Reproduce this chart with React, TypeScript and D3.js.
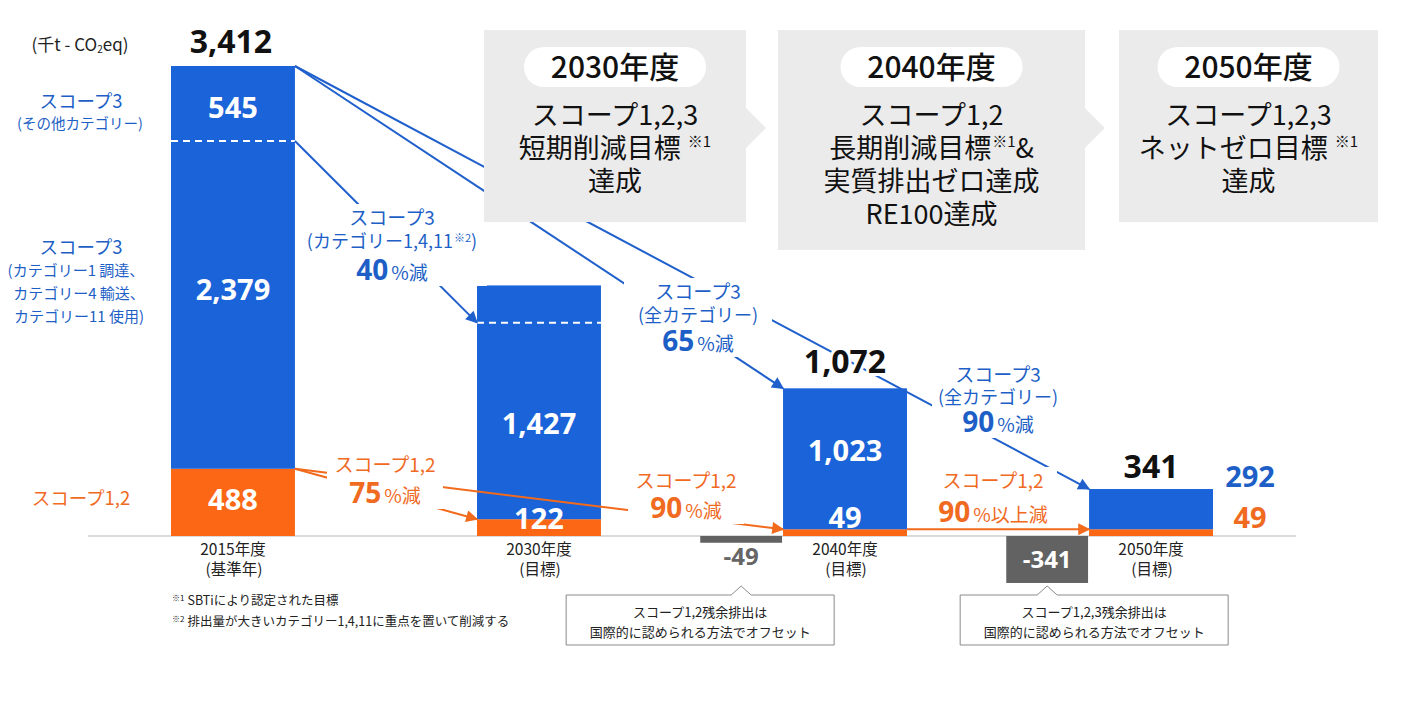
import React from 'react';
import * as d3 from 'd3';

// ---------- data ----------
const categories = ['2015年度', '2030年度', '2040年度', '2050年度'];
const categorySubs = ['(基準年)', '(目標)', '(目標)', '(目標)'];
const scope12 = [488, 122, 49, 49];
const scope3Main = [2379, 1427, 1023, 292];
const scope3Other = [545, 270, 0, 0];
const totals = [3412, 0, 1072, 341];
const offsets = [0, 0, -49, -341];
const yMax = 3412;

const unitLabel = ['(千t - CO', '2', 'eq)'];
const legendScope3Other = ['スコープ3', '(その他カテゴリー)'];
const legendScope3Main = ['スコープ3', '(カテゴリー1  調達、', 'カテゴリー4  輸送、', 'カテゴリー11  使用)'];
const legendScope12 = 'スコープ1,2';

const milestoneYears = ['2030年度', '2040年度', '2050年度'];
const milestoneLines = [
  ['スコープ1,2,3', '短期削減目標 ※1', '達成'],
  ['スコープ1,2', '長期削減目標※1&', '実質排出ゼロ達成', 'RE100達成'],
  ['スコープ1,2,3', 'ネットゼロ目標 ※1', '達成'],
];

const reductionTexts = [
  { color: 'blue', lines: ['スコープ3', '(カテゴリー1,4,11※2)'], pct: '40', unit: '%減' },
  { color: 'blue', lines: ['スコープ3', '(全カテゴリー)'], pct: '65', unit: '%減' },
  { color: 'blue', lines: ['スコープ3', '(全カテゴリー)'], pct: '90', unit: '%減' },
  { color: 'orange', lines: ['スコープ1,2'], pct: '75', unit: '%減' },
  { color: 'orange', lines: ['スコープ1,2'], pct: '90', unit: '%減' },
  { color: 'orange', lines: ['スコープ1,2'], pct: '90', unit: '%以上減' },
];

const offsetNotes = [
  ['スコープ1,2残余排出は', '国際的に認められる方法でオフセット'],
  ['スコープ1,2,3残余排出は', '国際的に認められる方法でオフセット'],
];
const footnotes = [
  ['※1', 'SBTiにより認定された目標'],
  ['※2', '排出量が大きいカテゴリー1,4,11に重点を置いて削減する'],
];

// ---------- style / layout ----------
const W = 1401;
const H = 702;
const BLUE = '#1a63d8';
const ORANGE = '#fb6714';
const BLUE_TXT = '#1d5fc6';
const ORANGE_TXT = '#f06a1f';
const BLUE_LINE = '#1f60cc';
const ORANGE_LINE = '#f26a1c';
const BOX_GRAY = '#ebebeb';
const DARK = '#626262';
const JP = '"Noto Sans CJK JP", "Noto Sans", sans-serif';
const NUM = '"Open Sans", "Noto Sans", sans-serif';

const reductionLayout = [
  { cx: 392, rows: [218, 242, 270], half: 95 },
  { cx: 698, rows: [292, 316, 341], half: 74 },
  { cx: 998, rows: [375, 398, 422], half: 66 },
  { cx: 385, rows: [465, 493], half: 58 },
  { cx: 686, rows: [481, 508], half: 58 },
  { cx: 993, rows: [481, 512], half: 64 },
];

const milestoneBoxes = [
  { x: 484, w: 262, h: 192, arrow: true },
  { x: 778, w: 307, h: 220, arrow: true },
  { x: 1119, w: 259, h: 192, arrow: false },
];

const fmt = d3.format(',');

function SupText(props: any) {
  const { text, x, cy, size, supSize, anchor = 'middle', fill = '#111', weight = 400, family = JP } = props;
  const parts = String(text).split(/(※\d)/).filter((p: string) => p.length > 0);
  let raised = false;
  const lift = size * 0.38;
  const kids = parts.map((p: string, i: number) => {
    if (/^※\d$/.test(p)) {
      raised = true;
      return (
        <tspan key={i} fontSize={supSize} dy={-lift} dx={1}>
          {p}
        </tspan>
      );
    }
    if (raised) {
      raised = false;
      return (
        <tspan key={i} dy={lift}>
          {p}
        </tspan>
      );
    }
    return <tspan key={i}>{p}</tspan>;
  });
  return (
    <text x={x} y={cy + size * 0.36} fontSize={size} textAnchor={anchor} fill={fill} fontWeight={weight} fontFamily={family}>
      {kids}
    </text>
  );
}

export default function App() {
  const x = d3.scaleBand<string>().domain(categories).range([171, 1213]).paddingInner(0.595).paddingOuter(0);
  const y = d3.scaleLinear().domain([0, yMax]).range([536, 66]);
  const bw = x.bandwidth();
  const cx = (i: number) => (x(categories[i]) as number) + bw / 2;
  const left = (i: number) => x(categories[i]) as number;
  const right = (i: number) => (x(categories[i]) as number) + bw;
  const stackTop = (i: number) => scope12[i] + scope3Main[i] + scope3Other[i];

  const connectors = [
    { c: 'blue', x1: right(0), y1: y(scope12[0] + scope3Main[0]), x2: left(1), y2: y(scope12[1] + scope3Main[1]) },
    { c: 'blue', x1: right(0), y1: y(totals[0]), x2: left(2), y2: y(totals[2]) },
    { c: 'blue', x1: right(0), y1: y(totals[0]), x2: left(3), y2: y(totals[3]) },
    { c: 'orange', x1: right(0), y1: y(scope12[0]), x2: left(1), y2: y(scope12[1]) },
    { c: 'orange', x1: right(0), y1: y(scope12[0]), x2: left(2), y2: y(scope12[2]) },
    { c: 'orange', x1: right(2), y1: y(scope12[2]), x2: left(3), y2: y(scope12[3]) },
  ];

  const white = { fill: '#fff', fontFamily: NUM, fontWeight: 700, textAnchor: 'middle' as const };
  const numY = (c: number, s: number) => c + s * 0.357;

  const valueLabels: any[] = [];
  {
    const i = 0;
    const m1 = y(scope12[i] + scope3Main[i]);
    valueLabels.push({ t: fmt(scope3Other[i]), x: cx(i), cy: (y(stackTop(i)) + m1) / 2 + 4 });
    valueLabels.push({ t: fmt(scope3Main[i]), x: cx(i), cy: (y(scope12[i]) + m1) / 2 - 15 });
    valueLabels.push({ t: fmt(scope12[i]), x: cx(i), cy: (y(0) + y(scope12[i])) / 2 - 3 });
  }
  {
    const i = 1;
    valueLabels.push({ t: fmt(scope3Main[i]), x: cx(i), cy: (y(scope12[i]) + y(scope12[i] + scope3Main[i])) / 2 + 3 });
    valueLabels.push({ t: fmt(scope12[i]), x: cx(i), cy: y(0) - 17 });
  }
  {
    const i = 2;
    valueLabels.push({ t: fmt(scope3Main[i]), x: cx(i), cy: (y(scope12[i]) + y(stackTop(i))) / 2 - 8 });
    valueLabels.push({ t: fmt(scope12[i]), x: cx(i), cy: y(0) - 18 });
  }
  const legendBase = valueLabels[1].cy;

  return (
    <svg
      width={W}
      height={H}
      viewBox={`0 0 ${W} ${H}`}
      style={{ position: 'absolute', left: 0, top: 0, display: 'block', background: '#fff' }}
    >
      <defs>
        <marker id="arrB" viewBox="0 0 10 10" refX="9" refY="5" markerWidth="15" markerHeight="12" markerUnits="userSpaceOnUse" orient="auto">
          <path d="M0,0L10,5L0,10z" fill={BLUE_LINE} />
        </marker>
        <marker id="arrO" viewBox="0 0 10 10" refX="9" refY="5" markerWidth="15" markerHeight="12" markerUnits="userSpaceOnUse" orient="auto">
          <path d="M0,0L10,5L0,10z" fill={ORANGE_LINE} />
        </marker>
      </defs>
      <rect x={0} y={0} width={W} height={H} fill="#fff" />

      <line x1={88} x2={1296} y1={y(0)} y2={y(0)} stroke="#cfcfcf" strokeWidth={1.5} />

      {categories.map((c, i) => {
        const x0 = left(i);
        const s12 = scope12[i];
        const top = stackTop(i);
        return (
          <g key={c}>
            <rect x={x0} y={y(s12)} width={bw} height={y(0) - y(s12)} fill={ORANGE} />
            <rect x={x0} y={y(top)} width={bw} height={y(s12) - y(top)} fill={BLUE} />
            {scope3Other[i] > 0 && (
              <line
                x1={x0}
                x2={x0 + bw}
                y1={y(s12 + scope3Main[i])}
                y2={y(s12 + scope3Main[i])}
                stroke="#fff"
                strokeWidth={2}
                strokeDasharray="7 5"
              />
            )}
          </g>
        );
      })}

      {offsets.map((o, i) => {
        if (o === 0) return null;
        const w = bw * 0.66;
        const x0 = left(i) - w - 1;
        const h = y(o) - y(0);
        const big = h > 30;
        return (
          <g key={'off' + i}>
            <rect x={x0} y={y(0)} width={w} height={h} fill={DARK} />
            <text
              x={x0 + w / 2}
              y={numY(big ? y(0) + h / 2 : y(o) + 14, 24)}
              fontSize={24}
              fontFamily={NUM}
              fontWeight={700}
              textAnchor="middle"
              fill={big ? '#fff' : '#666'}
            >
              {String(o)}
            </text>
          </g>
        );
      })}

      {categories.map((c, i) => (
        <g key={'cat' + i} fontFamily={JP} fill="#222" textAnchor="middle">
          <text x={cx(i)} y={555} fontSize={15.5}>
            {c}
          </text>
          <text x={cx(i) + 1} y={575} fontSize={15.5}>
            {categorySubs[i]}
          </text>
        </g>
      ))}

      {connectors.map((l, i) => (
        <line
          key={'cn' + i}
          x1={l.x1}
          y1={l.y1}
          x2={l.x2}
          y2={l.y2}
          stroke={l.c === 'blue' ? BLUE_LINE : ORANGE_LINE}
          strokeWidth={2}
          markerEnd={`url(#${l.c === 'blue' ? 'arrB' : 'arrO'})`}
        />
      ))}

      {reductionTexts.map((r, i) => {
        const L = reductionLayout[i];
        const col = r.color === 'blue' ? BLUE_TXT : ORANGE_TXT;
        const rows = L.rows;
        const last = rows[rows.length - 1];
        return (
          <g key={'red' + i}>
            <rect x={L.cx - L.half} y={rows[0] - 14} width={L.half * 2} height={last - rows[0] + 30} fill="#fff" />
            {r.lines.map((t, j) => (
              <SupText key={j} text={t} x={L.cx} cy={rows[j]} size={j === 0 ? 19 : 18} supSize={11} fill={col} />
            ))}
            <text x={L.cx} y={last + 10} textAnchor="middle" fill={col}>
              <tspan fontFamily={NUM} fontWeight={700} fontSize={28}>
                {r.pct}
              </tspan>
              <tspan fontFamily={JP} fontSize={19} dx={3}>
                {r.unit}
              </tspan>
            </text>
          </g>
        );
      })}

      {valueLabels.map((v, i) => (
        <text key={'v' + i} x={v.x} y={numY(v.cy, 29)} fontSize={29} {...white}>
          {v.t}
        </text>
      ))}

      {totals.map((t, i) => {
        if (!t) return null;
        const off = i === 0 ? 24 : i === 2 ? 27 : 22;
        return (
          <text
            key={'tot' + i}
            x={cx(i) - (i === 0 ? 2 : 0)}
            y={numY(y(t) - off, 32)}
            fontSize={32}
            fontFamily={NUM}
            fontWeight={700}
            textAnchor="middle"
            fill="#111"
            stroke="#fff"
            strokeWidth={6}
            strokeLinejoin="round"
            paintOrder="stroke"
          >
            {fmt(t)}
          </text>
        );
      })}

      <text x={right(3) + 37} y={numY(y(totals[3]) - 12, 29)} fontSize={29} fontFamily={NUM} fontWeight={700} textAnchor="middle" fill={BLUE_TXT}>
        {fmt(scope3Main[3])}
      </text>
      <text x={right(3) + 37} y={numY(y(0) - 18, 29)} fontSize={29} fontFamily={NUM} fontWeight={700} textAnchor="middle" fill={ORANGE_TXT}>
        {fmt(scope12[3])}
      </text>

      <text x={80} y={51} fontSize={17} fontFamily={JP} textAnchor="middle" fill="#222">
        <tspan>{unitLabel[0]}</tspan>
        <tspan fontSize={10} dy={2}>
          {unitLabel[1]}
        </tspan>
        <tspan dy={-2}>{unitLabel[2]}</tspan>
      </text>

      <g fontFamily={JP} textAnchor="middle" fill={BLUE_TXT}>
        <text x={81} y={valueLabels[0].cy} fontSize={18.5}>
          {legendScope3Other[0]}
        </text>
        <text x={80} y={valueLabels[0].cy + 21} fontSize={14.5}>
          {legendScope3Other[1]}
        </text>
        <text x={81} y={legendBase - 36} fontSize={18.5}>
          {legendScope3Main[0]}
        </text>
        {legendScope3Main.slice(1).map((t, j) => (
          <text key={j} x={j === 0 ? 76 : 79} y={legendBase - 14 + j * 23} fontSize={15}>
            {t}
          </text>
        ))}
      </g>
      <text x={81} y={valueLabels[2].cy + 6} fontSize={18.5} fontFamily={JP} textAnchor="middle" fill={ORANGE_TXT}>
        {legendScope12}
      </text>

      {milestoneBoxes.map((b, i) => {
        const mx = b.x + b.w / 2;
        return (
          <g key={'ms' + i}>
            <rect x={b.x} y={30} width={b.w} height={b.h} fill={BOX_GRAY} />
            {b.arrow && <path d={`M${b.x + b.w},108L${b.x + b.w + 20},128L${b.x + b.w},148Z`} fill={BOX_GRAY} />}
            <rect x={mx - 91} y={47} width={182} height={40} rx={20} fill="#fff" />
            <text x={mx} y={78} fontSize={30} fontFamily={JP} fontWeight={500} textAnchor="middle" fill="#111">
              {milestoneYears[i]}
            </text>
            {milestoneLines[i].map((t, j) => (
              <SupText key={j} text={t} x={mx} cy={115 + j * 33} size={27} supSize={15} fill="#111" weight={400} />
            ))}
          </g>
        );
      })}

      {offsetNotes.map((lines, k) => {
        const i = k === 0 ? 2 : 3;
        const w = bw * 0.66;
        const ox = left(i) - w - 1 + w / 2;
        const bx0 = k === 0 ? ox - 175 : ox - 87;
        const bx1 = bx0 + 268;
        const top = 595;
        const bot = 645;
        const d = `M${bx0},${top}H${ox - 10}L${ox},${top - 9}L${ox + 10},${top}H${bx1}V${bot}H${bx0}Z`;
        const tx = (bx0 + bx1) / 2;
        return (
          <g key={'on' + k}>
            <path d={d} fill="#fff" stroke="#8a8a8a" strokeWidth={1} />
            {lines.map((t, j) => (
              <text key={j} x={tx} y={617 + j * 20} fontSize={13} fontFamily={JP} textAnchor="middle" fill="#222">
                {t}
              </text>
            ))}
          </g>
        );
      })}

      {footnotes.map((f, j) => (
        <text key={'fn' + j} x={172} y={605 + j * 21} fontSize={12.5} fontFamily={JP} fill="#222">
          <tspan fontSize={8} dy={-4}>
            {f[0]}
          </tspan>
          <tspan dy={4} dx={3}>
            {f[1]}
          </tspan>
        </text>
      ))}
    </svg>
  );
}
